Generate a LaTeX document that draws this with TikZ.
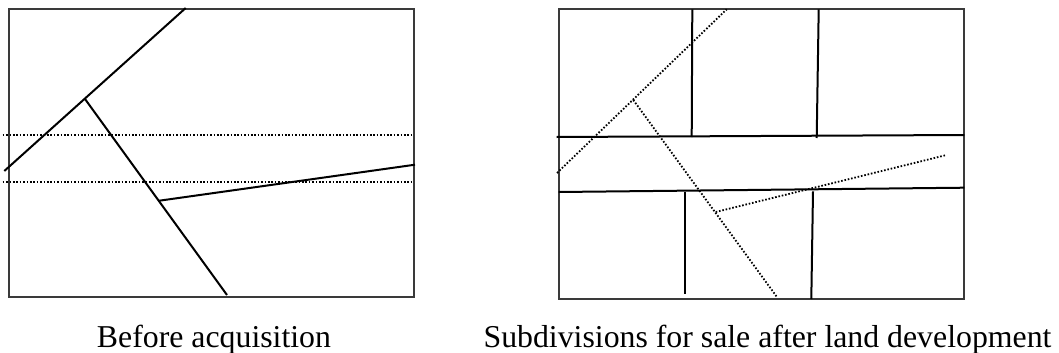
\documentclass[tikz,border=0pt]{standalone}
\usepackage{fontspec}
\setmainfont{Liberation Serif}
\usepackage{tikz}
\usetikzlibrary{calc}
\definecolor{framegray}{HTML}{3a3a3a}

\begin{document}
\begin{tikzpicture}[x=1pt,y=-1pt,
    boundary/.style={draw=framegray,line width=1.8pt},
    road/.style={line width=2pt},
    oldroad/.style={line width=1.8pt,dash pattern=on 1.6pt off 1.8pt},
    caption/.style={font=\fontsize{31.8}{38}\selectfont,inner sep=0pt}]
  \useasboundingbox (0,0) rectangle (1059,353);
  % 左图：征地前的地块与道路
  \draw[boundary] (8.7,9) rectangle (414,297);
  \coordinate (J) at (85,99);
  \coordinate (K) at (159.3,200.7);
  \draw[road] (4.3,171) -- (185.7,8);
  \draw[road] (J) -- (227,295);
  \draw[road] (K) -- (415,164.7);
  % 规划道路（虚线）
  \draw[oldroad] (2.7,135.3) -- (413,135.3);
  \draw[oldroad] (2.7,182.3) -- (413,182.3);
  \node[caption,anchor=base] (before) at (214,347) {Before acquisition};

  % 右图：开发后分宗出售
  \draw[boundary] (558.7,9.3) rectangle (964.3,299);
  \draw[road] (556.7,137) -- (964.3,135);
  \draw[road] (558.7,192) -- (964.3,187.7);
  % 地块分界线
  \draw[road] (692.3,9.3) -- (691.7,137);
  \draw[road] (818.7,9.3) -- (816.7,138);
  \draw[road] (685.3,191.7) -- (685.3,294);
  \draw[road] (813,191.3) -- (811.3,299);
  % 原有道路（点线）
  \coordinate (J') at (633.3,100);
  \coordinate (K') at (715.7,212);
  \draw[oldroad] (557,173) -- (726.7,9.3);
  \draw[oldroad] (J') -- (776.7,296.7);
  \draw[oldroad] (K') -- (945.3,155.3);
  \node[caption,anchor=base] (after) at (767.5,347) {Subdivisions for sale after land development};
\end{tikzpicture}
\end{document}
